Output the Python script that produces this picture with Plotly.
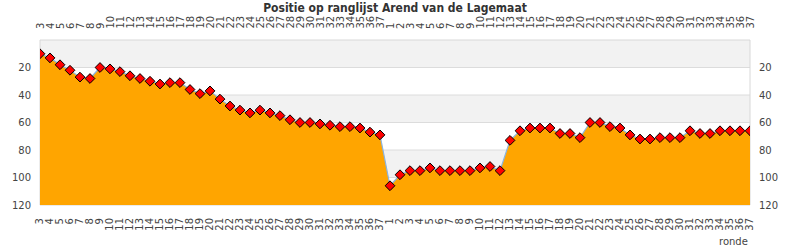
import plotly.graph_objects as go

title = "Positie op ranglijst Arend van de Lagemaat"
rounds = [str(r) for r in range(3, 38)] + [str(r) for r in range(1, 38)]
positions = [10, 13, 18, 22, 27, 28, 20, 21, 23, 26, 28, 30, 32, 31, 31, 36, 39, 37, 43, 48,
             51, 53, 51, 53, 55, 58, 60, 60, 61, 62, 63, 63, 64, 67, 69,
             106, 98, 95, 95, 93, 95, 95, 95, 95, 93, 92, 95, 73, 66, 64, 64, 64, 68, 68, 71,
             60, 60, 63, 64, 69, 72, 72, 71, 71, 71, 66, 68, 68, 66, 66, 66, 66]
y_ticks = [20, 40, 60, 80, 100, 120]
y_max = 120

xs = list(range(len(rounds)))
fnt = "DejaVu Sans"

fig = go.Figure()
fig.add_trace(go.Scatter(x=xs, y=[y_max] * len(xs), mode="lines", line=dict(width=0),
                         hoverinfo="skip", showlegend=False))
fig.add_trace(go.Scatter(x=xs, y=positions, mode="lines+markers", fill="tonexty",
                         fillcolor="#FFA500", line=dict(color="#8ab4e0", width=1.2),
                         marker=dict(symbol="diamond", size=7.5, color="#FF0000",
                                     line=dict(color="#000000", width=1)),
                         showlegend=False))
fig.add_trace(go.Scatter(x=xs, y=positions, yaxis="y2", mode="markers",
                         marker=dict(opacity=0), hoverinfo="skip", showlegend=False))

shapes = []
for i in range(0, len(y_ticks)):
    lo = y_ticks[i] - 20
    hi = y_ticks[i]
    if i % 2 == 0:
        shapes.append(dict(type="rect", xref="paper", yref="y", x0=0, x1=1, y0=lo, y1=hi,
                           fillcolor="#F2F2F2", line=dict(width=0), layer="below"))
for t in y_ticks:
    shapes.append(dict(type="line", xref="paper", yref="y", x0=0, x1=1, y0=t, y1=t,
                       line=dict(color="#DCDCDC", width=1), layer="below"))
shapes.append(dict(type="rect", xref="paper", yref="paper", x0=0, x1=1, y0=0, y1=1,
                   line=dict(color="#D8D8D8", width=1), layer="below"))

tickfont = dict(family=fnt, size=10, color="#444444")
ycommon = dict(tickmode="array", tickvals=y_ticks, range=[y_max, 0], showgrid=False,
               zeroline=False, ticks="", tickfont=tickfont, showline=False,
               ticklabelstandoff=8)

annotations = [dict(text="ronde", xref="paper", yref="paper", x=1, y=0, xanchor="right",
                    yanchor="top", yshift=-29, showarrow=False,
                    font=dict(family=fnt, size=10, color="#444444"))]
for xv, lab in zip(xs, rounds):
    annotations.append(dict(text=lab, xref="x", yref="paper", x=xv, y=1, xanchor="center",
                            yanchor="bottom", yshift=10, textangle=-90, showarrow=False,
                            font=tickfont, borderpad=0))

fig.update_layout(
    width=790, height=250,
    margin=dict(l=40, r=40, t=40, b=45),
    paper_bgcolor="white", plot_bgcolor="white",
    title=dict(text="<b>" + title + "</b>", x=0.5, xanchor="center", y=0.985, yanchor="top",
               font=dict(family="DejaVu Sans Condensed, DejaVu Sans", size=12, color="#333333")),
    xaxis=dict(tickmode="array", tickvals=xs, ticktext=rounds, tickangle=-90,
               range=[0, len(xs) - 1], showgrid=False, zeroline=False, ticks="",
               tickfont=tickfont, showline=False, side="bottom", ticklabelstandoff=10),
    yaxis=dict(**ycommon, side="left"),
    yaxis2=dict(**ycommon, side="right", overlaying="y", matches="y"),
    shapes=shapes,
    annotations=annotations,
)

fig.write_html("out.html")
